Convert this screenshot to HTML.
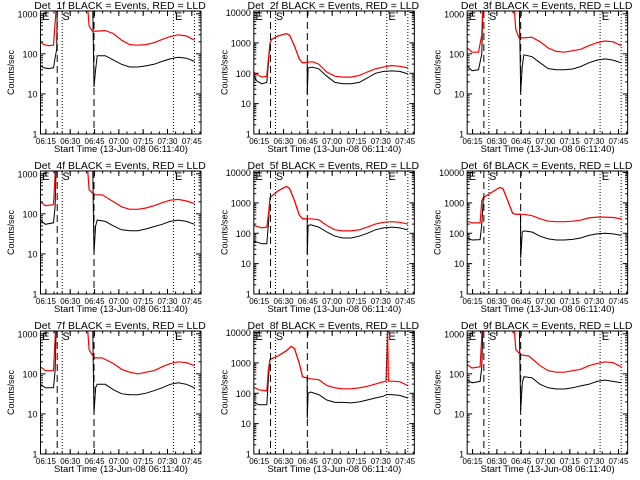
<!DOCTYPE html>
<html><head><meta charset="utf-8"><style>
html,body{margin:0;padding:0;background:#fff}
svg{display:block}
text{font-family:"Liberation Sans",sans-serif;fill:#000}
</style></head><body>
<svg id="c" width="640" height="480" xmlns="http://www.w3.org/2000/svg"></svg>
<script>
const NS='http://www.w3.org/2000/svg';
const detNames=['1f','2f','3f','4f','5f','6f','7f','8f','9f'];
const yMaxDecade=[3,4,3,3,4,4,3,4,3];
const xTickLabels=['06:15','06:30','06:45','07:00','07:15','07:30','07:45'];
const xTickMinutes=[3.33,18.33,33.33,48.33,63.33,78.33,93.33];
const dashedEvents=[10.3,33];
const dottedEvents=[13.4,82,95];
// red (LLD) series: times & values per panel
const redT=[
[0,2,5,8,9.5,10,28,30,32,35,40,45,50,55,60,65,70,75,80,85,90,95],
[0,2,5,8,9,10,11,15,20,22,25,28,30,33,36,40,45,50,55,60,65,70,75,80,85,90,95],
[0,3,7,9,10,28,30,32,35,40,45,50,55,60,65,70,75,80,85,90,95],
[0,3,8,10,28,30,33,38,45,50,55,60,65,70,75,80,85,90,95],
[0,5,8,9,10,15,20,22,25,28,30,35,40,45,50,55,60,65,70,75,80,85,90,95],
[0,3,8,9,10,15,20,22,25,28,30,35,40,45,50,55,60,65,70,75,80,85,90,95],
[0,3,8,10,28,30,33,38,45,50,55,60,65,70,75,80,85,90,95],
[0,3,8,9,10,15,20,23,25,28,30,35,40,45,50,55,60,65,70,75,80,81.5,82,82.5,83,85,90,95],
[0,3,8,10,28,30,33,38,45,50,55,60,65,70,75,80,85,90,95]];
const redV=[
[200,170,160,165,1100,5000,5000,500,370,370,380,320,220,170,165,170,190,230,270,300,280,220],
[110,90,75,80,300,1000,1300,1700,2000,1800,800,300,220,230,240,200,110,80,75,75,85,110,140,160,180,170,150],
[140,110,110,300,5000,5000,400,250,250,260,200,140,115,110,120,130,160,190,210,200,160],
[200,160,170,5000,5000,400,300,300,200,150,130,130,140,160,190,220,230,210,180],
[180,150,160,400,1500,2500,3500,3000,1200,400,300,300,280,180,130,120,120,130,160,200,230,240,230,200],
[250,220,220,1200,1500,2200,3200,3000,1200,450,420,420,380,300,250,240,240,250,270,320,340,340,330,300],
[150,120,120,5000,5000,400,250,250,180,130,110,100,110,120,150,180,200,190,160],
[160,130,120,600,1300,1700,2500,3500,3000,1000,350,300,280,180,150,140,140,150,170,200,240,250,1500,12000,250,250,240,180],
[170,140,150,5000,5000,400,300,280,160,120,110,110,120,130,160,180,200,190,150]];
// black (Events) series
const blackT=[
[0,2,5,8,9,10,10.5,32,33,34,35,40,45,50,55,60,65,70,75,80,85,90,95],
[0,2,5,8,9,10,11,15,20,22,25,28,30,32.9,33,33.5,36,40,45,50,55,60,65,70,75,80,85,90,95],
[0,3,7,9,10,32,33,34,35,40,45,50,55,60,65,70,75,80,85,90,95],
[0,3,8,9,10,32,33,34,35,40,45,50,55,60,65,70,75,80,85,90,95],
[0,5,8,9,10,15,20,22,25,28,30,32.9,33,33.5,35,40,45,50,55,60,65,70,75,80,85,90,95],
[0,3,8,9,10,15,20,22,25,28,30,32.9,33,34,35,40,45,50,55,60,65,70,75,80,85,90,95],
[0,3,8,9,10,32,33,34,35,40,45,50,55,60,65,70,75,80,85,90,95],
[0,3,8,9,10,15,20,23,25,28,30,32.9,33,33.5,35,40,45,50,55,60,65,70,75,80,82,85,90,95],
[0,3,8,9,10,32,33,34,35,40,45,50,55,60,65,70,75,80,85,90,95]];
const blackV=[
[50,45,43,45,80,130,5000,5000,15,40,90,90,70,55,47,47,50,55,65,75,82,78,65],
[80,55,45,50,200,1000,1300,1700,2000,1800,800,300,220,229,20,150,160,140,80,50,45,45,50,70,100,115,120,115,95],
[50,38,40,100,5000,5000,11,50,95,85,60,43,40,40,42,48,60,70,75,70,60],
[70,55,60,150,5000,5000,10,50,70,65,50,40,38,38,42,48,55,65,70,65,55],
[55,45,45,200,1500,2500,3500,3000,1200,400,300,300,20,180,190,160,110,80,70,70,80,100,130,150,160,150,130],
[70,60,62,200,1500,2200,3200,3000,1200,450,420,420,15,110,120,110,80,65,60,60,63,70,85,95,100,95,85],
[55,45,45,120,5000,5000,10,45,55,55,40,32,30,30,33,38,45,55,60,55,45],
[50,42,42,300,1300,1700,2500,3500,3000,1000,350,310,15,100,110,90,60,50,50,48,52,60,70,80,90,90,85,70],
[70,60,65,150,5000,5000,12,60,85,80,55,45,42,42,45,50,55,65,70,65,60]];

const svg=document.getElementById('c');
function el(tag,attrs,parent){const e=document.createElementNS(NS,tag);for(const k in attrs)e.setAttribute(k,attrs[k]);(parent||svg).appendChild(e);return e;}
const T0=0,T1=99;
for(let p=0;p<9;p++){
  const col=p%3,row=Math.floor(p/3);
  const ox=col*213.33,oy=row*160;
  const L=ox+40.5,R=ox+201,Tp=oy+11,B=oy+134;
  const dec=yMaxDecade[p];
  const lmax=dec+(dec===3?0.07:0.05);
  const X=t=>L+(t-T0)/(T1-T0)*(R-L);
  const Y=v=>B-(Math.log10(v)-0)/lmax*(B-Tp);
  const g=el('g',{});
  
  
  const clip=el('clipPath',{id:'cl'+p},g);
  el('rect',{x:L,y:Tp,width:R-L,height:B-Tp},clip);
  const title=el('text',{x:ox+120,y:oy+9,'text-anchor':'middle','font-size':10.5},g);
  title.textContent='Det_'+detNames[p]+' BLACK = Events, RED = LLD';
  
  
  const yt=el('text',{x:0,y:0,'text-anchor':'middle','font-size':9,transform:`translate(${ox+14},${(Tp+B)/2}) rotate(-90)`},g);
  yt.textContent='Counts/sec';
  
  
  const xt=el('text',{x:ox+121,y:oy+152,'text-anchor':'middle','font-size':9.5},g);
  xt.textContent='Start Time (13-Jun-08 06:11:40)';
  
  
  for(let d=0;d<=dec;d++){
    const y=Y(Math.pow(10,d));
    el('line',{x1:L,x2:L+5,y1:y,y2:y,stroke:'#000','stroke-width':1},g);
    el('line',{x1:R,x2:R-5,y1:y,y2:y,stroke:'#000','stroke-width':1},g);
    const lb=el('text',{x:L-3,y:y+3.5,'text-anchor':'end','font-size':9},g);
    lb.textContent=String(Math.pow(10,d));
    
    
    if(d<dec)for(let m=2;m<10;m++){const ym=Y(m*Math.pow(10,d));
      el('line',{x1:L,x2:L+2.5,y1:ym,y2:ym,stroke:'#000'},g);
      el('line',{x1:R,x2:R-2.5,y1:ym,y2:ym,stroke:'#000'},g);}
  }
  for(let i=0;i<xTickMinutes.length;i++){
    const x=X(xTickMinutes[i]);
    el('line',{x1:x,x2:x,y1:B,y2:B-5,stroke:'#000'},g);
    el('line',{x1:x,x2:x,y1:Tp,y2:Tp+5,stroke:'#000'},g);
    const lb=el('text',{x:x,y:B+10,'text-anchor':'middle','font-size':8},g);
    lb.textContent=xTickLabels[i];
    
    
  }
  for(let m=3.33;m<T1;m+=5){const x=X(m);el('line',{x1:x,x2:x,y1:B,y2:B-2.5,stroke:'#000'},g);el('line',{x1:x,x2:x,y1:Tp,y2:Tp+2.5,stroke:'#000'},g);}
  const pts=(ts,vs)=>ts.map((t,i)=>X(t).toFixed(1)+','+Y(vs[i]).toFixed(1)).join(' ');
  const cg=el('g',{'clip-path':`url(#cl${p})`},g);
  const bl=el('polyline',{points:pts(blackT[p],blackV[p]),fill:'none',stroke:'#000','stroke-width':1},cg);
  
  
  const rd=el('polyline',{points:pts(redT[p],redV[p]),fill:'none',stroke:'#f00','stroke-width':1.2},cg);
  
  
  dashedEvents.forEach(t=>{const x=X(t);const l=el('line',{x1:x,x2:x,y1:Tp,y2:B,stroke:'#000','stroke-dasharray':'7,4'},g);
    });
  dottedEvents.forEach(t=>{const x=X(t);const l=el('line',{x1:x,x2:x,y1:Tp,y2:B,stroke:'#000','stroke-dasharray':'1,2'},g);
    });
  [['E',X(1)],['S',X(13.5)],['E',X(83)]].forEach(([s,x])=>{const t=el('text',{x:x,y:Tp+9,'font-size':11},g);t.textContent=s;
    });
  const box=el('rect',{x:L,y:Tp,width:R-L,height:B-Tp,fill:'none',stroke:'#000','stroke-width':1},g);
  
  
}
</script>
</body></html>
